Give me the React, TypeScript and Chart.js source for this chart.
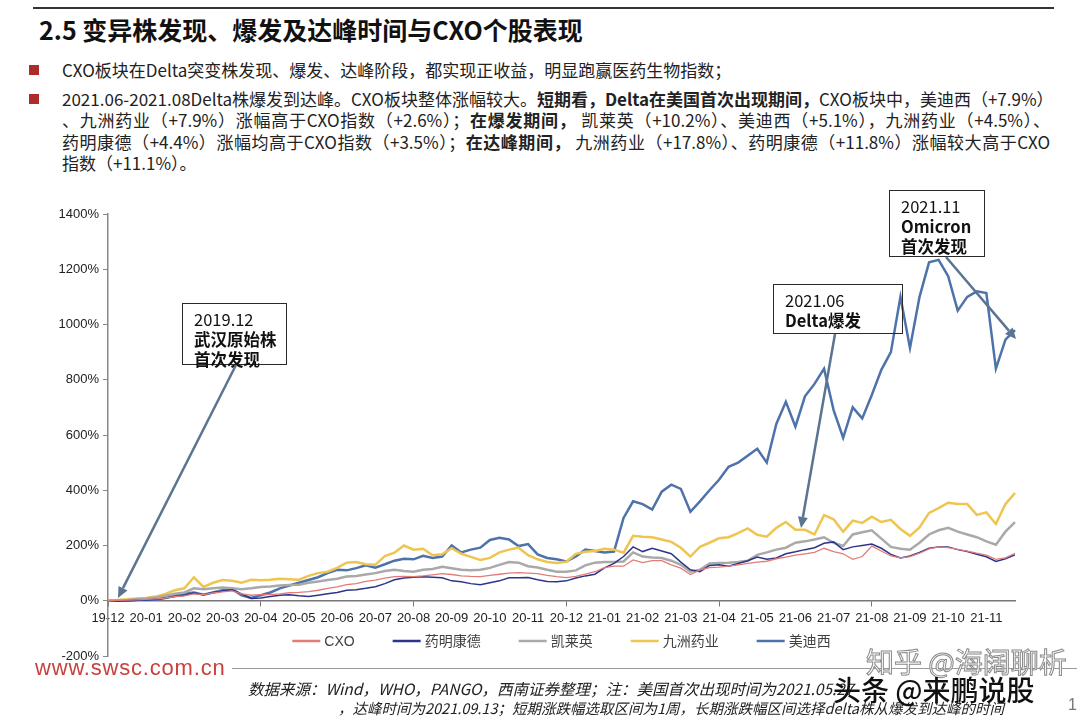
import React, { useEffect, useRef } from 'react';
import { Chart, registerables } from 'chart.js';

Chart.register(...registerables);

// ---- data (weekly samples, 4 per month) ----
const months = ['19-12', '20-01', '20-02', '20-03', '20-04', '20-05', '20-06', '20-07', '20-08', '20-09', '20-10', '20-11',
  '20-12', '21-01', '21-02', '21-03', '21-04', '21-05', '21-06', '21-07', '21-08', '21-09', '21-10', '21-11'];
const labels = months.flatMap((m) => [m, '', '', '']);

const yMin = -200;
const yMax = 1400;
const yStep = 200;

const cxo = [0, 1, 2, 3, 5, 7, 10, 15, 18, 25, 22, 28, 32, 36, 25, 20, 22, 22, 25, 29, 30, 33, 38, 45,
  50, 58, 62, 70, 75, 82, 87, 88, 87, 90, 94, 98, 95, 90, 88, 87, 92, 96, 100, 102, 100, 98, 92, 87,
  84, 88, 96, 105, 120, 125, 125, 148, 138, 145, 145, 130, 118, 95, 112, 120, 122, 125, 130, 135,
  140, 143, 152, 158, 165, 170, 175, 190, 178, 170, 150, 160, 198, 180, 162, 155, 160, 172, 188, 195,
  192, 186, 180, 172, 165, 150, 155, 172];
const wuxi = [0, -2, 0, 2, 3, 5, 10, 15, 20, 28, 22, 30, 35, 40, 25, 8, 10, 15, 20, 22, 18, 15, 20, 25,
  30, 38, 40, 45, 51, 62, 76, 82, 85, 87, 85, 83, 72, 69, 62, 58, 65, 72, 83, 83, 84, 76, 70, 69,
  72, 82, 90, 96, 119, 135, 160, 195, 178, 190, 180, 170, 140, 112, 105, 128, 130, 125, 135, 145,
  158, 150, 155, 170, 177, 185, 192, 208, 213, 185, 195, 200, 205, 190, 168, 155, 162, 175, 190, 195,
  195, 185, 178, 168, 159, 142, 152, 166];
const asymchem = [0, 2, 3, 5, 8, 12, 18, 25, 30, 45, 42, 45, 48, 45, 42, 45, 50, 52, 55, 57, 58, 65, 70, 75,
  80, 88, 90, 95, 100, 108, 112, 108, 105, 112, 115, 123, 118, 112, 110, 112, 119, 130, 140, 138, 125, 120, 112, 105,
  105, 110, 128, 138, 140, 140, 142, 175, 160, 157, 155, 145, 130, 105, 112, 135, 137, 138, 140, 145,
  166, 175, 185, 192, 210, 215, 222, 230, 210, 198, 240, 248, 255, 225, 195, 188, 185, 210, 240, 255,
  264, 250, 240, 230, 215, 203, 250, 285];
const jiuzhou = [0, 3, 5, 8, 10, 15, 25, 38, 45, 85, 50, 65, 75, 72, 65, 76, 74, 76, 80, 78, 76, 90, 100, 105,
  119, 138, 140, 132, 130, 162, 174, 200, 185, 188, 165, 168, 190, 170, 159, 148, 155, 175, 185, 192, 165, 150, 140, 137,
  141, 170, 177, 180, 188, 185, 174, 235, 232, 230, 222, 213, 192, 160, 195, 210, 226, 230, 245, 262,
  239, 232, 264, 285, 257, 257, 240, 310, 295, 250, 290, 282, 304, 285, 293, 260, 235, 265, 318, 335,
  355, 350, 350, 311, 320, 278, 350, 390];
const medicilon = [0, 2, 0, 3, 5, 4, 10, 18, 25, 30, 22, 30, 38, 42, 20, 10, 20, 30, 45, 55, 65, 75, 85, 100,
  112, 110, 118, 128, 120, 132, 145, 152, 150, 163, 155, 160, 200, 175, 185, 192, 220, 228, 222, 198, 205, 168, 155, 150,
  142, 160, 185, 180, 175, 178, 300, 360, 350, 330, 395, 420, 405, 322, 360, 400, 438, 485, 500, 525,
  550, 500, 640, 720, 630, 740, 785, 840, 690, 590, 700, 660, 745, 836, 900, 1100, 915, 1100, 1225, 1234,
  1175, 1050, 1100, 1120, 1114, 840, 945, 980];

const seriesNames = ['CXO', '药明康德', '凯莱英', '九洲药业', '美迪西'];
const seriesData = [cxo, wuxi, asymchem, jiuzhou, medicilon];
const seriesColors = ['#e27c78', '#2e3589', '#a9a9a9', '#efc552', '#4e72aa'];
const seriesWidths = [1.3, 1.5, 2.5, 2.5, 2.5];

const TICK_FONT = '"Liberation Sans", Arial, "Noto Sans CJK SC", sans-serif';

const legendPlugin = {
  id: 'innerLegend',
  afterDraw(chart: any) {
    const { ctx, chartArea } = chart;
    ctx.save();
    ctx.font = `14px ${TICK_FONT}`;
    ctx.textBaseline = 'middle';
    const items = chart.data.datasets.map((d: any) => ({ label: d.label, color: d.borderColor, w: ctx.measureText(d.label).width }));
    const lineLen = 28, gapText = 4, gapItem = 38;
    const total = items.reduce((s: number, it: any) => s + lineLen + gapText + it.w, 0) + gapItem * (items.length - 1);
    let x = (chartArea.left + chartArea.right) / 2 - total / 2;
    const y = chartArea.bottom - 15;
    items.forEach((it: any) => {
      ctx.strokeStyle = it.color;
      ctx.lineWidth = 2.5;
      ctx.beginPath();
      ctx.moveTo(x, y);
      ctx.lineTo(x + lineLen, y);
      ctx.stroke();
      ctx.fillStyle = '#404040';
      ctx.fillText(it.label, x + lineLen + gapText, y + 1);
      x += lineLen + gapText + it.w + gapItem;
    });
    ctx.restore();
  },
};

function Arrow({ x1, y1, x2, y2 }: { x1: number; y1: number; x2: number; y2: number }) {
  const dx = x2 - x1, dy = y2 - y1;
  const len = Math.hypot(dx, dy);
  const ux = dx / len, uy = dy / len;
  const hl = 11, hw = 5;
  const bx = x2 - ux * hl, by = y2 - uy * hl;
  const pts = `${x2},${y2} ${bx - uy * hw},${by + ux * hw} ${bx + uy * hw},${by - ux * hw}`;
  return (
    <g>
      <line x1={x1} y1={y1} x2={bx} y2={by} stroke="#5b7491" strokeWidth={2.5} />
      <polygon points={pts} fill="#5b7491" />
    </g>
  );
}

const cjk = '"Noto Sans CJK SC", "Noto Sans", sans-serif';

function Box({ left, top, width, height, lines }: { left: number; top: number; width: number; height: number; lines: [string, boolean][] }) {
  return (
    <div style={{ position: 'absolute', left, top, width, height, border: '1.5px solid #2a2a2a', boxSizing: 'border-box' }}>
      <div style={{ position: 'absolute', left: 11, top: 5, whiteSpace: 'nowrap' }}>
        {lines.map(([t, b], i) => (
          <div key={i} style={{ fontFamily: cjk, fontSize: 16.5, lineHeight: '20px', fontWeight: b ? 700 : 400, color: '#111' }}>{t}</div>
        ))}
      </div>
    </div>
  );
}

export default function App() {
  const canvasRef = useRef<HTMLCanvasElement>(null);

  useEffect(() => {
    const chart = new Chart(canvasRef.current as HTMLCanvasElement, {
      type: 'line',
      data: {
        labels,
        datasets: seriesNames.map((name, i) => ({
          label: name,
          data: seriesData[i],
          borderColor: seriesColors[i],
          backgroundColor: seriesColors[i],
          borderWidth: seriesWidths[i],
          pointRadius: 0,
          tension: 0,
          fill: false,
        })),
      },
      options: {
        animation: false,
        responsive: true,
        maintainAspectRatio: false,
        layout: { padding: { top: 16, right: 15, bottom: 12, left: 0 } },
        plugins: { legend: { display: false }, tooltip: { enabled: false } },
        scales: {
          x: {
            type: 'category',
            position: { y: 0 } as any,
            offset: false,
            grid: {
              drawOnChartArea: false,
              drawTicks: true,
              tickLength: 5,
              color: (c: any) => (labels[c.index] ? '#777' : 'rgba(0,0,0,0)'),
            },
            border: { display: true, color: '#777', width: 1.5 },
            ticks: {
              autoSkip: false,
              maxRotation: 0,
              minRotation: 0,
              padding: 5,
              color: '#222',
              font: { family: TICK_FONT, size: 13 },
              callback: (_v: any, i: number) => (labels[i] ? labels[i] : null),
            },
          },
          y: {
            min: yMin,
            max: yMax,
            afterFit: (s: any) => { s.width = 68; },
            grid: { drawOnChartArea: false, drawTicks: true, tickLength: 5, color: '#888' },
            border: { display: true, color: '#888', width: 1.5 },
            ticks: {
              stepSize: yStep,
              autoSkip: false,
              padding: 4,
              color: '#222',
              font: { family: TICK_FONT, size: 13 },
              callback: (v: any) => `${v}%`,
            },
          },
        },
      },
      plugins: [legendPlugin],
    } as any);
    return () => chart.destroy();
  }, []);

  const bulletText: React.CSSProperties = {
    position: 'absolute', left: 62, width: 988, fontFamily: cjk, fontSize: 17, lineHeight: '22px', color: '#222',
    textAlign: 'justify', textAlignLast: 'justify' as any, whiteSpace: 'nowrap',
  };
  const bold: React.CSSProperties = { fontWeight: 700 };
  const sq: React.CSSProperties = { position: 'absolute', left: 29, width: 10, height: 10, background: '#ad2b29' };

  return (
    <div style={{ position: 'absolute', left: 0, top: 0, width: 1080, height: 723, overflow: 'hidden', background: '#fff' }}>
      <div style={{ position: 'absolute', left: 33, top: 7, width: 1021, height: 2, background: '#333' }} />
      <div style={{ position: 'absolute', left: 39, top: 12, fontFamily: cjk, fontWeight: 700, fontSize: 25, lineHeight: '34px', color: '#111', whiteSpace: 'nowrap' }}>
        2.5 变异株发现、爆发及达峰时间与CXO个股表现
      </div>

      <div style={{ ...sq, top: 65 }} />
      <div style={{ ...bulletText, top: 59, textAlignLast: 'left' as any }}>CXO板块在Delta突变株发现、爆发、达峰阶段，都实现正收益，明显跑赢医药生物指数；</div>
      <div style={{ ...sq, top: 94 }} />
      <div style={{ ...bulletText, top: 88 }}>2021.06-2021.08Delta株爆发到达峰。CXO板块整体涨幅较大。<span style={bold}>短期看，Delta在美国首次出现期间，</span>CXO板块中，美迪西（+7.9%）</div>
      <div style={{ ...bulletText, top: 109 }}>、九洲药业（+7.9%）涨幅高于CXO指数（+2.6%）；<span style={bold}>在爆发期间，</span> 凯莱英（+10.2%）、美迪西（+5.1%），九洲药业（+4.5%）、</div>
      <div style={{ ...bulletText, top: 131 }}>药明康德（+4.4%）涨幅均高于CXO指数（+3.5%）；<span style={bold}>在达峰期间，</span> 九洲药业（+17.8%）、药明康德（+11.8%）涨幅较大高于CXO</div>
      <div style={{ ...bulletText, top: 152, textAlignLast: 'left' as any }}>指数（+11.1%）。</div>

      <div style={{ position: 'absolute', left: 40, top: 198, width: 990, height: 470 }}>
        <canvas ref={canvasRef} style={{ display: 'block' }} />
      </div>

      <Box left={182} top={303} width={105} height={62} lines={[['2019.12', false], ['武汉原始株', true], ['首次发现', true]]} />
      <Box left={773} top={284} width={130} height={50} lines={[['2021.06', false], ['Delta爆发', true]]} />
      <Box left={889} top={190} width={96} height={67} lines={[['2021.11', false], ['Omicron', true], ['首次发现', true]]} />

      <svg width={1080} height={723} style={{ position: 'absolute', left: 0, top: 0, pointerEvents: 'none' }}>
        <Arrow x1={236} y1={365} x2={118} y2={598} />
        <Arrow x1={835} y1={334} x2={801} y2={528} />
        <Arrow x1={946} y1={257} x2={1016} y2={339} />
      </svg>

      <div style={{ position: 'absolute', left: 35, top: 655, fontFamily: '"Liberation Sans", Arial, sans-serif', fontSize: 22, letterSpacing: 0.8, lineHeight: '26px', color: '#c9413c', whiteSpace: 'nowrap' }}>www.swsc.com.cn</div>
      <div style={{ position: 'absolute', left: 232, top: 668, width: 845, height: 1, background: '#9a9a9a' }} />
      <div style={{ position: 'absolute', left: 248, top: 678, fontFamily: cjk, fontStyle: 'italic', fontSize: 15.5, lineHeight: '20px', color: '#222', whiteSpace: 'nowrap' }}>
        数据来源：Wind，WHO，PANGO，西南证券整理；注：美国首次出现时间为2021.05.27
      </div>
      <div style={{ position: 'absolute', left: 338, top: 698, fontFamily: cjk, fontStyle: 'italic', fontSize: 14.5, lineHeight: '20px', color: '#222', whiteSpace: 'nowrap' }}>
        ，达峰时间为2021.09.13；短期涨跌幅选取区间为1周，长期涨跌幅区间选择delta株从爆发到达峰的时间
      </div>
      <div style={{ position: 'absolute', left: 866, top: 644, fontFamily: cjk, fontSize: 28, lineHeight: '34px', color: '#fff', whiteSpace: 'nowrap', WebkitTextStroke: '1px #8a8a8a' as any }}>
        知乎 @海阔聊析
      </div>
      <div style={{ position: 'absolute', left: 833, top: 672, fontFamily: cjk, fontSize: 28, fontWeight: 500, lineHeight: '34px', color: '#111', whiteSpace: 'nowrap' }}>
        头条 @来鹏说股
      </div>
      <div style={{ position: 'absolute', left: 1068, top: 695, fontFamily: TICK_FONT, fontSize: 16, lineHeight: '20px', color: '#777' }}>1</div>
    </div>
  );
}
